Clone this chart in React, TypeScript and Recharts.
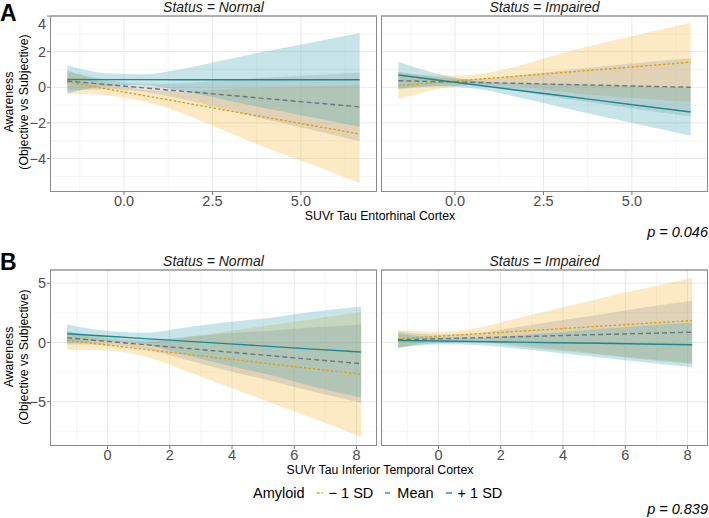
import React from 'react';
import { ComposedChart, Area, Line, XAxis, YAxis, CartesianGrid } from 'recharts';

// x positions where the fitted lines / confidence bands were read
const xA = [-1.6, -0.5, 0.5, 1.6, 2.8, 4.0, 5.3, 6.66];
const xB = [-1.3, 0, 1.2, 2.5, 3.8, 5.2, 6.6, 8.15];

// A: Entorhinal, Status = Normal
const aNormMinusFit = [0.30, -0.09, -0.44, -0.83, -1.26, -1.68, -2.14, -2.62];
const aNormMinusLo = [-0.35, -0.44, -0.76, -1.43, -2.41, -3.38, -4.34, -5.37];
const aNormMinusHi = [0.95, 0.26, -0.12, -0.23, -0.11, 0.02, 0.06, 0.13];
const aNormMeanFit = [0.35, 0.16, -0.02, -0.21, -0.42, -0.63, -0.86, -1.10];
const aNormMeanLo = [-0.20, -0.11, -0.24, -0.65, -1.22, -1.80, -2.39, -3.03];
const aNormMeanHi = [0.90, 0.43, 0.20, 0.23, 0.38, 0.54, 0.67, 0.83];
const aNormPlusFit = [0.44, 0.43, 0.43, 0.42, 0.42, 0.42, 0.42, 0.42];
const aNormPlusLo = [-0.36, 0.07, 0.13, -0.18, -0.68, -1.18, -1.68, -2.21];
const aNormPlusHi = [1.24, 0.79, 0.73, 1.02, 1.52, 2.02, 2.52, 3.05];

// A: Entorhinal, Status = Impaired
const aImpMinusFit = [0.09, 0.27, 0.43, 0.60, 0.79, 0.98, 1.19, 1.41];
const aImpMinusLo = [-0.66, -0.11, 0.15, 0.10, -0.21, -0.44, -0.63, -0.81];
const aImpMinusHi = [0.84, 0.65, 0.71, 1.10, 1.79, 2.40, 3.01, 3.63];
const aImpMeanFit = [0.37, 0.32, 0.28, 0.23, 0.17, 0.12, 0.06, 0.0];
const aImpMeanLo = [-0.13, 0.07, 0.10, -0.17, -0.55, -0.90, -1.27, -1.63];
const aImpMeanHi = [0.87, 0.57, 0.46, 0.63, 0.89, 1.14, 1.39, 1.63];
const aImpPlusFit = [0.69, 0.41, 0.16, -0.12, -0.42, -0.72, -1.05, -1.39];
const aImpPlusLo = [-0.05, 0.06, -0.06, -0.47, -1.02, -1.57, -2.13, -2.72];
const aImpPlusHi = [1.43, 0.76, 0.38, 0.23, 0.18, 0.13, 0.03, -0.06];

// B: Inferior temporal, Status = Normal
const bNormMinusFit = [0.17, -0.22, -0.58, -0.98, -1.37, -1.80, -2.22, -2.69];
const bNormMinusLo = [-0.62, -0.67, -1.18, -2.38, -3.67, -5.05, -6.42, -7.96];
const bNormMinusHi = [0.96, 0.23, 0.02, 0.42, 0.93, 1.45, 1.98, 2.58];
const bNormMeanFit = [0.39, 0.09, -0.19, -0.49, -0.79, -1.11, -1.44, -1.79];
const bNormMeanLo = [-0.16, -0.23, -0.57, -1.44, -2.34, -3.21, -4.14, -5.09];
const bNormMeanHi = [0.94, 0.41, 0.19, 0.46, 0.76, 0.99, 1.26, 1.51];
const bNormPlusFit = [0.73, 0.52, 0.32, 0.11, -0.10, -0.33, -0.56, -0.81];
const bNormPlusLo = [-0.05, 0.07, -0.18, -1.04, -1.90, -2.73, -3.71, -4.65];
const bNormPlusHi = [1.51, 0.97, 0.82, 1.26, 1.70, 2.07, 2.59, 3.03];

// B: Inferior temporal, Status = Impaired
const bImpMinusFit = [0.31, 0.52, 0.72, 0.93, 1.14, 1.37, 1.60, 1.85];
const bImpMinusLo = [-0.44, 0.14, 0.24, -0.17, -0.56, -0.98, -1.35, -1.74];
const bImpMinusHi = [1.06, 0.90, 1.20, 2.03, 2.84, 3.72, 4.55, 5.44];
const bImpMeanFit = [0.22, 0.31, 0.39, 0.48, 0.57, 0.67, 0.76, 0.87];
const bImpMeanLo = [-0.48, -0.04, 0.01, -0.32, -0.68, -1.03, -1.44, -1.79];
const bImpMeanHi = [0.92, 0.66, 0.77, 1.28, 1.82, 2.37, 2.96, 3.53];
const bImpPlusFit = [0.17, 0.12, 0.08, 0.03, -0.02, -0.07, -0.13, -0.19];
const bImpPlusLo = [-0.43, -0.18, -0.22, -0.52, -0.87, -1.27, -1.68, -2.07];
const bImpPlusHi = [0.77, 0.42, 0.38, 0.58, 0.83, 1.13, 1.42, 1.69];

// axis ticks
const aXTicks = [0, 2.5, 5];
const aXMinor = [-1.25, 1.25, 3.75, 6.25];
const aYTicks = [-4, -2, 0, 2, 4];
const aYMinor = [-5, -3, -1, 1, 3];
const bXTicks = [0, 2, 4, 6, 8];
const bXMinor = [-1, 1, 3, 5, 7];
const bYTicks = [-5, 0, 5];
const bYMinor = [-7.5, -2.5, 2.5];

const groupLabels = ['\u2212 1 SD', 'Mean', '+ 1 SD'];
const lineColors = ['#E2A00E', '#6B7682', '#1A8A8E'];
const bandColors = ['#F2B83A', '#8A8A8A', '#45A9B2'];
const bandOpacity = [0.3, 0.25, 0.3];
const dashes = ['2.5 2', '5 3', undefined];

const FONT = '"Liberation Sans", Arial, sans-serif';

function buildRows(xs, series) {
  return xs.map((x, i) => {
    const r = { x };
    series.forEach(([fit, lo, hi], g) => {
      r['fit' + g] = fit[i];
      r['band' + g] = [lo[i], hi[i]];
    });
    return r;
  });
}

const aNormalRows = buildRows(xA, [
  [aNormMinusFit, aNormMinusLo, aNormMinusHi],
  [aNormMeanFit, aNormMeanLo, aNormMeanHi],
  [aNormPlusFit, aNormPlusLo, aNormPlusHi],
]);
const aImpairedRows = buildRows(xA, [
  [aImpMinusFit, aImpMinusLo, aImpMinusHi],
  [aImpMeanFit, aImpMeanLo, aImpMeanHi],
  [aImpPlusFit, aImpPlusLo, aImpPlusHi],
]);
const bNormalRows = buildRows(xB, [
  [bNormMinusFit, bNormMinusLo, bNormMinusHi],
  [bNormMeanFit, bNormMeanLo, bNormMeanHi],
  [bNormPlusFit, bNormPlusLo, bNormPlusHi],
]);
const bImpairedRows = buildRows(xB, [
  [bImpMinusFit, bImpMinusLo, bImpMinusHi],
  [bImpMeanFit, bImpMeanLo, bImpMeanHi],
  [bImpPlusFit, bImpPlusLo, bImpPlusHi],
]);

const minusFmt = (v) => (v < 0 ? '\u2212' + Math.abs(v) : String(v));
const oneDec = (v) => (v < 0 ? '\u2212' + Math.abs(v).toFixed(1) : v.toFixed(1));

const tickStyle = { fill: '#4d4d4d', fontSize: 14.5, fontFamily: FONT };

function Panel({ rows, left, top, plotW, plotH, xDomain, xTicks, xMinor, xFmt, yDomain, yTicks, yMinor, showY, strip }) {
  const yw = showY ? 30 : 0;
  return (
    <div style={{ position: 'absolute', left: left - yw, top }}>
      <ComposedChart width={plotW + yw} height={plotH + 24} data={rows} margin={{ top: 0, right: 0, bottom: 0, left: 0 }}>
        <CartesianGrid horizontalValues={yMinor} verticalValues={xMinor} stroke="#f3f3f3" strokeWidth={0.8} />
        <CartesianGrid horizontalValues={yTicks} verticalValues={xTicks} stroke="#e8e8e8" strokeWidth={1} />
        <XAxis type="number" dataKey="x" domain={xDomain} ticks={xTicks} allowDataOverflow height={24}
          axisLine={false} tickSize={3} tickMargin={1} tickLine={{ stroke: '#777' }} tick={tickStyle} tickFormatter={xFmt} />
        <YAxis type="number" domain={yDomain} ticks={yTicks} allowDataOverflow hide={!showY} width={yw}
          axisLine={false} tickSize={3} tickMargin={1} tickLine={{ stroke: '#777' }} tick={tickStyle} tickFormatter={minusFmt} />
        {[0, 1, 2].map((g) => (
          <Area key={'b' + g} dataKey={'band' + g} type="monotone" stroke="none" fill={bandColors[g]}
            fillOpacity={bandOpacity[g]} isAnimationActive={false} dot={false} activeDot={false} />
        ))}
        {[0, 1, 2].map((g) => (
          <Line key={'l' + g} dataKey={'fit' + g} type="linear" stroke={lineColors[g]} strokeWidth={1.4}
            strokeDasharray={dashes[g]} isAnimationActive={false} dot={false} activeDot={false} />
        ))}
      </ComposedChart>
      <div style={{ position: 'absolute', left: yw, top: 0, width: plotW, height: plotH, boxSizing: 'border-box',
        borderLeft: '1px solid #8a8a8a', borderRight: '1px solid #8a8a8a', borderBottom: '1px solid #8a8a8a',
        borderTop: '2px solid #b0b0b0', pointerEvents: 'none' }} />
      <div style={{ position: 'absolute', left: yw, top: -15, width: plotW, textAlign: 'center', fontStyle: 'italic',
        fontSize: 14, lineHeight: '15px', color: '#1a1a1a', fontFamily: FONT }}>{strip}</div>
    </div>
  );
}

function YTitle({ cy }) {
  return (
    <div style={{ position: 'absolute', left: 17, top: cy, width: 200, transform: 'translate(-50%, -50%) rotate(-90deg)',
      textAlign: 'center', fontSize: 12.3, lineHeight: '15px', color: '#000', whiteSpace: 'nowrap' }}>
      <div>Awareness</div>
      <div>(Objective vs Subjective)</div>
    </div>
  );
}

function Legend({ top, left }) {
  return (
    <div style={{ position: 'absolute', left, top, display: 'flex', alignItems: 'center', fontSize: 14.5, lineHeight: '18px', color: '#000' }}>
      <span>Amyloid</span>
      {groupLabels.map((lab, g) => (
        <span key={lab} style={{ display: 'flex', alignItems: 'center', marginLeft: 9 }}>
          <svg width={12} height={12}>
            <line x1={3} x2={9} y1={6} y2={6} stroke={lineColors[g]} strokeWidth={1.4} strokeDasharray={dashes[g]} />
          </svg>
          <span style={{ marginLeft: 3 }}>{lab}</span>
        </span>
      ))}
    </div>
  );
}

export default function App() {
  const aX = [-2.09, 7.15];
  const aY = [-5.88, 4.06];
  const bX = [-1.85, 8.66];
  const bY = [-8.74, 6.2];
  return (
    <div style={{ position: 'absolute', left: 0, top: 0, width: 709, height: 518, background: '#fff', fontFamily: FONT }}>
      <div style={{ position: 'absolute', left: 0, top: 1, fontSize: 23, fontWeight: 'bold', lineHeight: '24px' }}>A</div>
      <YTitle cy={102} />
      <Panel rows={aNormalRows} left={50} top={15} plotW={327} plotH={177} xDomain={aX} xTicks={aXTicks} xMinor={aXMinor}
        xFmt={oneDec} yDomain={aY} yTicks={aYTicks} yMinor={aYMinor} showY strip="Status = Normal" />
      <Panel rows={aImpairedRows} left={381} top={15} plotW={327} plotH={177} xDomain={aX} xTicks={aXTicks} xMinor={aXMinor}
        xFmt={oneDec} yDomain={aY} yTicks={aYTicks} yMinor={aYMinor} showY={false} strip="Status = Impaired" />
      <div style={{ position: 'absolute', left: 180, width: 400, top: 209, textAlign: 'center', fontSize: 12.3, lineHeight: '14px' }}>
        SUVr Tau Entorhinal Cortex
      </div>
      <div style={{ position: 'absolute', left: 508, width: 200, top: 223, textAlign: 'right', fontSize: 14.5, fontStyle: 'italic', lineHeight: '18px' }}>
        p = 0.046
      </div>

      <div style={{ position: 'absolute', left: 0, top: 250, fontSize: 23, fontWeight: 'bold', lineHeight: '24px' }}>B</div>
      <YTitle cy={357} />
      <Panel rows={bNormalRows} left={50} top={269} plotW={327} plotH={177} xDomain={bX} xTicks={bXTicks} xMinor={bXMinor}
        xFmt={minusFmt} yDomain={bY} yTicks={bYTicks} yMinor={bYMinor} showY strip="Status = Normal" />
      <Panel rows={bImpairedRows} left={381} top={269} plotW={327} plotH={177} xDomain={bX} xTicks={bXTicks} xMinor={bXMinor}
        xFmt={minusFmt} yDomain={bY} yTicks={bYTicks} yMinor={bYMinor} showY={false} strip="Status = Impaired" />
      <div style={{ position: 'absolute', left: 180, width: 400, top: 463, textAlign: 'center', fontSize: 12.3, lineHeight: '14px' }}>
        SUVr Tau Inferior Temporal Cortex
      </div>
      <Legend left={253} top={484} />
      <div style={{ position: 'absolute', left: 508, width: 200, top: 500, textAlign: 'right', fontSize: 14.5, fontStyle: 'italic', lineHeight: '18px' }}>
        p = 0.839
      </div>
    </div>
  );
}
